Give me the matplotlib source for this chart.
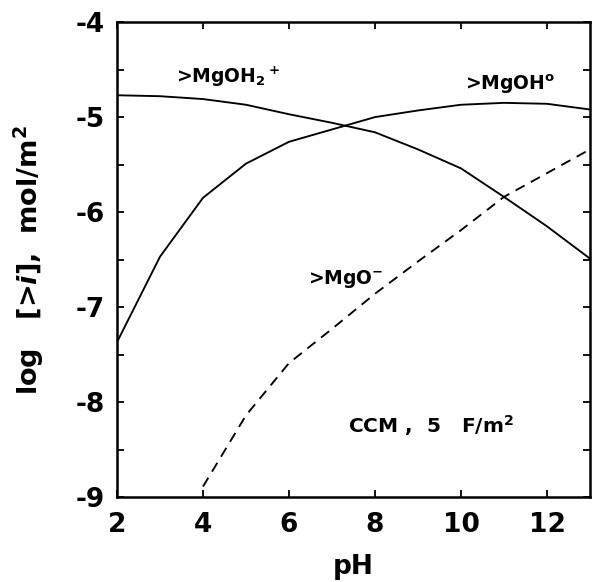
import numpy as np
import matplotlib
matplotlib.use("Agg")
import matplotlib.pyplot as plt
from matplotlib.ticker import MultipleLocator

plt.rcParams['font.family'] = ['DejaVu Sans']
plt.rcParams['font.weight'] = 'bold'
plt.rcParams['axes.labelweight'] = 'bold'
plt.rcParams['axes.unicode_minus'] = False
plt.rcParams['mathtext.fontset'] = 'custom'
plt.rcParams['mathtext.rm'] = 'DejaVu Sans:bold'
plt.rcParams['mathtext.it'] = 'DejaVu Sans:bold:italic'
plt.rcParams['mathtext.bf'] = 'DejaVu Sans:bold'
plt.rcParams['mathtext.default'] = 'rm'

# surface speciation vs pH (constant capacitance model)
ph = [2, 3, 4, 5, 6, 7, 8, 9, 10, 11, 12, 13]
mgoh2 = [-4.77, -4.78, -4.81, -4.87, -4.97, -5.06, -5.16, -5.34, -5.54, -5.84, -6.15, -6.49]
mgoh = [-7.37, -6.47, -5.85, -5.49, -5.26, -5.13, -5.00, -4.93, -4.87, -4.85, -4.86, -4.92]
ph_o = [4, 5, 6, 7, 8, 9, 10, 11, 12, 13]
mgo = [-8.89, -8.14, -7.59, -7.23, -6.86, -6.52, -6.19, -5.84, -5.59, -5.34]

fig = plt.figure(figsize=(5.92, 5.82), dpi=100)
ax = fig.add_axes([0.1976, 0.146, 0.7990, 0.816])

ax.plot(ph, mgoh2, color='black', lw=1.35)
ax.plot(ph, mgoh, color='black', lw=1.35)
ax.plot(ph_o, mgo, color='black', lw=1.35, dashes=(5.5, 3.8))

fs = 13.5
ax.text(3.37, -4.58, r'>MgOH$_2$$^+$', fontsize=fs, va='center', ha='left')
ax.text(10.1, -4.65, r'>MgOH$^o$', fontsize=fs, va='center', ha='left')
ax.text(6.45, -6.7, r'>MgO$^{-}$', fontsize=fs, va='center', ha='left')
ax.text(7.37, -8.25, r'CCM ,  5   F/m$^2$', fontsize=14.5, va='center', ha='left')

ax.set_xlim(2, 13)
ax.set_ylim(-9, -4)
ax.xaxis.set_major_locator(MultipleLocator(2))
ax.yaxis.set_major_locator(MultipleLocator(1))
ax.yaxis.set_minor_locator(MultipleLocator(0.5))
ax.tick_params(which='both', direction='in', top=True, right=True, length=5, width=1.3,
               labelsize=19)
ax.tick_params(axis='x', pad=11)
ax.tick_params(axis='y', pad=9)
for s in ax.spines.values():
    s.set_linewidth(1.8)

ax.set_xlabel('pH', fontsize=19, labelpad=11)
ax.set_ylabel(r'log   [>$\it{i}$],  mol/m$^2$', fontsize=19.5, labelpad=21)

fig.savefig('out.png', dpi=100)
